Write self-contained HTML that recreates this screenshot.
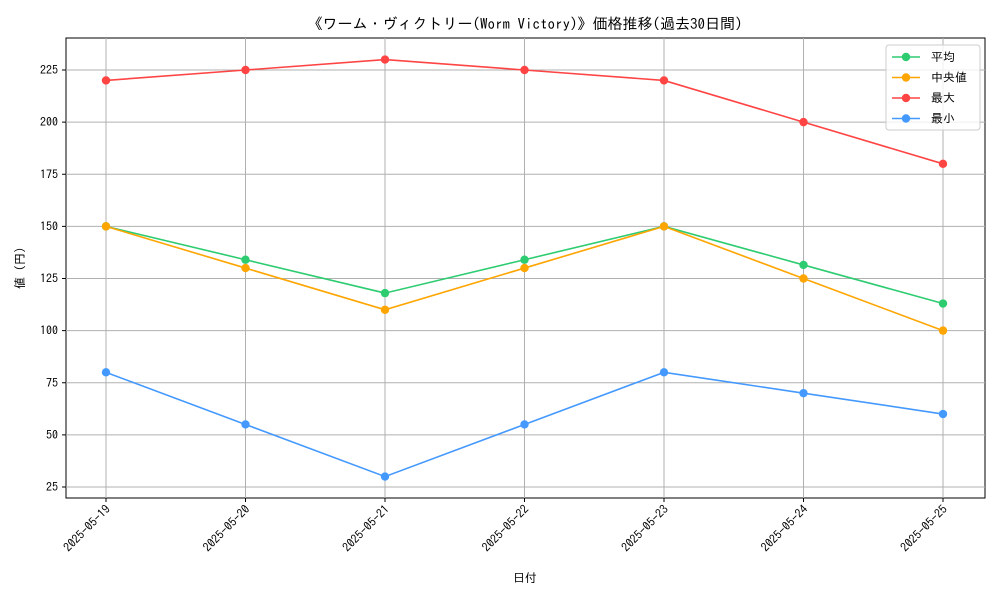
<!DOCTYPE html>
<html><head><meta charset="utf-8"><style>
body{margin:0;background:#fff}
svg text{font-family:"IPAGothic","Noto Sans CJK JP",sans-serif;fill:#000}
</style></head><body>
<svg id="c" width="1000" height="600" xmlns="http://www.w3.org/2000/svg">
<rect x="66" y="38" width="919" height="460" fill="none" stroke="#000" stroke-width="1"/>
<text x="525" y="29" text-anchor="middle" font-size="15">《ワーム・ヴィクトリー(Worm Victory)》価格推移(過去30日間)</text>
<text x="525" y="582" text-anchor="middle" font-size="12">日付</text>
<text transform="translate(24,268) rotate(-90)" text-anchor="middle" font-size="12">値 (円)</text>
<g id="grid"></g><g id="series"></g>
<g>
<rect x="886" y="45" width="94" height="85" rx="3" fill="#fff" fill-opacity="0.8" stroke="#ccc"/>
<g id="legend"></g></g>
</svg>
<script>
const categories=["2025-05-19","2025-05-20","2025-05-21","2025-05-22","2025-05-23","2025-05-24","2025-05-25"];
const avgValues=[150,134,118,134,150,131.5,113];
const medianValues=[150,130,110,130,150,125,100];
const maxValues=[220,225,230,225,220,200,180];
const minValues=[80,55,30,55,80,70,60];
const yTicks=[25,50,75,100,125,150,175,200,225];
const seriesNames=["平均","中央値","最大","最小"];
const NS="http://www.w3.org/2000/svg";
const x=i=>106+i*139.5;
const y=v=>487-(v-25)*2.085;
function mk(t,a,p){const e=document.createElementNS(NS,t);for(const k in a)e.setAttribute(k,a[k]);p.appendChild(e);return e;}
const grid=document.getElementById('grid');
yTicks.forEach(v=>{
 const l=mk('line',{x1:66,x2:985,y1:y(v),y2:y(v),stroke:'#b0b0b0'},grid);
 
 
 mk('line',{x1:62,x2:66,y1:y(v),y2:y(v),stroke:'#000'},grid);
 const t=mk('text',{x:58,y:y(v)+4,'text-anchor':'end','font-size':12},grid);t.textContent=v;
 
 
});
categories.forEach((c,i)=>{
 const l=mk('line',{x1:x(i),x2:x(i),y1:38,y2:498,stroke:'#b0b0b0'},grid);
 
 
 mk('line',{x1:x(i),x2:x(i),y1:498,y2:502,stroke:'#000'},grid);
 const t=mk('text',{x:x(i)+5,y:510,'text-anchor':'end','font-size':12,transform:`rotate(-45 ${x(i)+5} 510)`},grid);t.textContent=c;
 
 
});
const data=[avgValues,medianValues,maxValues,minValues];
const colors=['#2ecc71','#ffa500','#ff4444','#4499ff'];
const sg=document.getElementById('series');
data.forEach((d,s)=>{
 const g=mk('g',{},sg);
 
 
 mk('polyline',{points:d.map((v,i)=>x(i)+','+y(v)).join(' '),fill:'none',stroke:colors[s],'stroke-width':1.6},g);
 d.forEach((v,i)=>{const c=mk('circle',{cx:x(i),cy:y(v),r:4.2,fill:colors[s]},g);
  
  });
});
const lg=document.getElementById('legend');
seriesNames.forEach((n,s)=>{
 const yy=57+s*20.5;
 const g=mk('g',{},lg);
 
 
 mk('line',{x1:892,x2:920,y1:yy,y2:yy,stroke:colors[s],'stroke-width':1.6},g);
 mk('circle',{cx:906,cy:yy,r:4.2,fill:colors[s]},g);
 const t=mk('text',{x:931,y:yy+4,'font-size':12},g);t.textContent=n;
});
</script>
</body></html>
